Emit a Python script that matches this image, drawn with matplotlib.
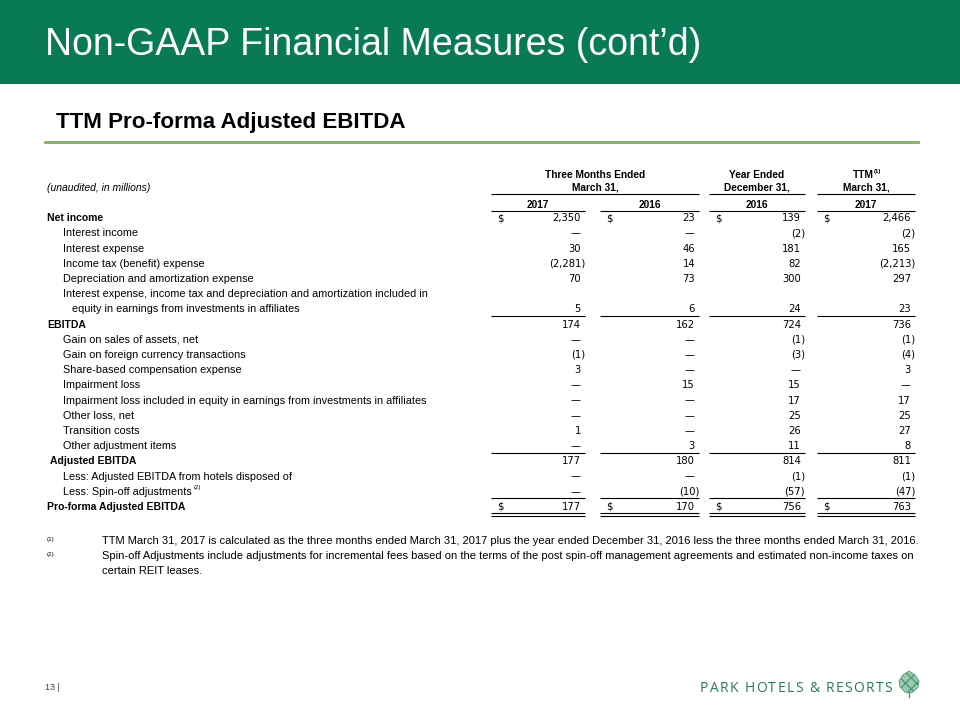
import matplotlib.pyplot as plt
from matplotlib.patches import Rectangle, Polygon

plt.rcParams['font.family'] = ['Liberation Sans', 'DejaVu Sans']

title = "Non-GAAP Financial Measures (cont\u2019d)"
subtitle = "TTM Pro-forma Adjusted EBITDA"

col_groups = ["Three Months Ended", "Year Ended", "TTM"]
col_dates = ["March 31,", "December 31,", "March 31,"]
col_years = ["2017", "2016", "2016", "2017"]

row_labels = [
    "Net income",
    "Interest income",
    "Interest expense",
    "Income tax (benefit) expense",
    "Depreciation and amortization expense",
    "Interest expense, income tax and depreciation and amortization included in\nequity in earnings from investments in affiliates",
    "EBITDA",
    "Gain on sales of assets, net",
    "Gain on foreign currency transactions",
    "Share-based compensation expense",
    "Impairment loss",
    "Impairment loss included in equity in earnings from investments in affiliates",
    "Other loss, net",
    "Transition costs",
    "Other adjustment items",
    "Adjusted EBITDA",
    "Less: Adjusted EBITDA from hotels disposed of",
    "Less: Spin-off adjustments",
    "Pro-forma Adjusted EBITDA",
]
q1_2017 = [2350, 0, 30, -2281, 70, 5, 174, 0, -1, 3, 0, 0, 0, 1, 0, 177, 0, 0, 177]
q1_2016 = [23, 0, 46, 14, 73, 6, 162, 0, 0, 0, 15, 0, 0, 0, 3, 180, 0, -10, 170]
fy_2016 = [139, -2, 181, 82, 300, 24, 724, -1, -3, 0, 15, 17, 25, 26, 11, 814, -1, -57, 756]
ttm_2017 = [2466, -2, 165, -2213, 297, 23, 736, -1, -4, 3, 0, 17, 25, 27, 8, 811, -1, -47, 763]

footnotes = [
    "TTM March 31, 2017 is calculated as the three months ended March 31, 2017 plus the year ended December 31, 2016 less the three months ended March 31, 2016.",
    "Spin-off Adjustments include adjustments for incremental fees based on the terms of the post spin-off management agreements and estimated non-income taxes on\ncertain REIT leases.",
]

total_rows = ["Net income", "EBITDA", "Adjusted EBITDA", "Pro-forma Adjusted EBITDA"]
dollar_rows = ["Net income", "Pro-forma Adjusted EBITDA"]
underline_after = ["Interest expense, income tax", "Other adjustment items", "Less: Spin-off"]
green = '#087A56'

fig = plt.figure(figsize=(9.6, 7.2), dpi=100)
ax = fig.add_axes([0, 0, 1, 1])
ax.set_xlim(0, 960)
ax.set_ylim(720, 0)
ax.axis('off')
renderer = fig.canvas.get_renderer()


def width_of(s, **kw):
    t = ax.text(0, 0, s + "x", **kw)
    w = t.get_window_extent(renderer).width
    t.set_text("x")
    w -= t.get_window_extent(renderer).width
    t.remove()
    return w


# header band
ax.add_patch(Rectangle((0, 0), 960, 84, color=green, lw=0))
ax.text(45, 55, title, color='white', fontsize=27, va='baseline', ha='left')
ax.text(56, 128, subtitle, color='black', fontsize=16.1, fontweight='bold', va='baseline')
ax.plot([45, 918], [142, 142], color='#7AB648', lw=2)

lab_fs = 7.8
num_fs = 7.2
hdr_fs = 7.3
num_font = 'DejaVu Sans'
cols = [(491, 585), (600, 699), (709, 805), (817, 915)]
series = [q1_2017, q1_2016, fy_2016, ttm_2017]
base = 3.6  # baseline offset below row centre


def hline(y, spans, lw=0.8):
    for a, b in spans:
        ax.plot([a, b], [y, y], color='black', lw=lw, solid_capstyle='butt')


# column headers
group_spans = [(491, 699), (709, 805), (817, 915)]
for (a, b), g, d in zip(group_spans, col_groups, col_dates):
    cx = (a + b) / 2
    if g == "TTM":
        t = ax.text(cx - 3, 174 + base, g, fontsize=hdr_fs, fontweight='bold', ha='center', va='baseline')
        bb = t.get_window_extent(renderer)
        ax.text(bb.x1 + 0.5, 171, "(1)", fontsize=4.3, fontweight='bold', ha='left', va='center')
    else:
        ax.text(cx, 174 + base, g, fontsize=hdr_fs, fontweight='bold', ha='center', va='baseline')
    ax.text(cx, 187 + base, d, fontsize=hdr_fs, fontweight='bold', ha='center', va='baseline')
hline(194, group_spans)
for (a, b), yr in zip(cols, col_years):
    ax.text((a + b) / 2, 204 + base, yr, fontsize=hdr_fs, fontweight='bold', ha='center', va='baseline')
hline(211, cols)
ax.text(47, 187 + base, "(unaudited, in millions)", fontsize=lab_fs - 0.3, style='italic',
        ha='left', va='baseline')


def fmt(v):
    if v == 0:
        return "\u2014"
    s = f"{abs(v):,}"
    return f"({s})" if v < 0 else s


y0, dy = 217.5, 15.2
slot = 0
for i, lab in enumerate(row_labels):
    y = y0 + dy * slot
    bold = lab in total_rows
    if "\n" in lab:
        l1, l2 = lab.split("\n")
        ax.text(63, y + base, l1, fontsize=lab_fs, ha='left', va='baseline')
        slot += 1
        y = y0 + dy * slot
        ax.text(72, y + base, l2, fontsize=lab_fs, ha='left', va='baseline')
    else:
        x = 47 if bold else 63
        if lab == "Adjusted EBITDA":
            x = 50
        t = ax.text(x, y + base, lab, fontsize=7.5 if bold else lab_fs, ha='left', va='baseline',
                    fontweight='bold' if bold else 'normal')
        if lab.startswith("Less: Spin-off"):
            bb = t.get_window_extent(renderer)
            ax.text(bb.x1 + 1.5, y - 4, "(2)", fontsize=4.3, ha='left', va='center')
    for (a, b), s in zip(cols, series):
        v = s[i]
        xr = b if v < 0 else b - 4
        ax.text(xr, y + base, fmt(v), fontsize=num_fs, family=num_font, ha='right', va='baseline')
        if lab in dollar_rows:
            ax.text(a + 6, y + base, "$", fontsize=num_fs, family=num_font, ha='left', va='baseline')
    if any(lab.startswith(u) for u in underline_after):
        hline(y + 7, cols)
    if lab == "Pro-forma Adjusted EBITDA":
        hline(y + 7, cols)
        hline(y + 10, cols)
    slot += 1

# footnotes
fy = [541, 556]
for k, (yy, note) in enumerate(zip(fy, footnotes)):
    ax.text(47, yy - 1.5, f"({k + 1})", fontsize=4.5, ha='left', va='center')
    for j, part in enumerate(note.split("\n")):
        ax.text(102, yy + 14.5 * j, part, fontsize=8, ha='left', va='center')

# footer
ax.text(45, 688, "13 |", fontsize=6.5, color='#444444', ha='left', va='center')

logo = "PARK HOTELS & RESORTS"
logo_kw = dict(fontsize=10, color='#2A7A5A', family='Open Sans')
natural = width_of(logo, **logo_kw)
track = (192 - natural) / (len(logo) - 1)
for i, ch in enumerate(logo):
    x = 700 + width_of(logo[:i], **logo_kw) + track * i
    ax.text(x, 692, ch, ha='left', va='baseline', **logo_kw)

# pine-cone mark
cone = [(909, 671), (915, 675), (919, 681), (918, 687), (913, 692), (909, 693),
        (905, 692), (900, 687), (899, 681), (903, 675)]
ax.add_patch(Polygon(cone, closed=True, facecolor='#9CCBB2', edgecolor='#4E9A78',
                     lw=0.6, hatch='xxx'))
ax.plot([909, 909], [692, 697], color='#4E9A78', lw=1)

fig.savefig('out.png', dpi=100)
